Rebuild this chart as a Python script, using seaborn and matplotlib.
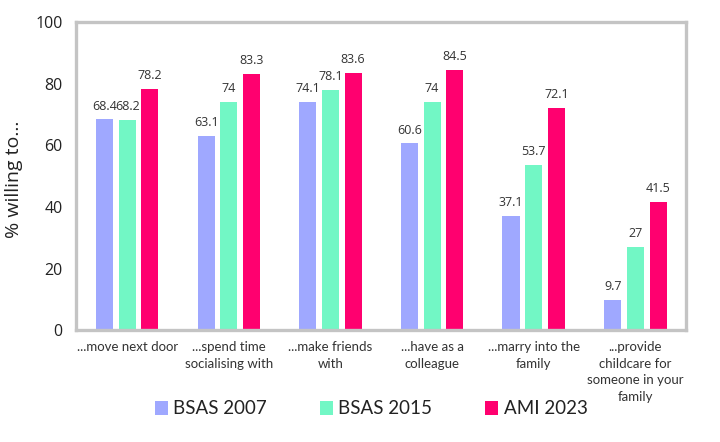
import matplotlib
matplotlib.use("Agg")
import matplotlib.pyplot as plt
import pandas as pd
import seaborn as sns

categories = [
    "...move next door",
    "...spend time\nsocialising with",
    "...make friends\nwith",
    "...have as a\ncolleague",
    "...marry into the\nfamily",
    "...provide\nchildcare for\nsomeone in your\nfamily",
]
series_names = ["BSAS 2007", "BSAS 2015", "AMI 2023"]
bsas_2007 = [68.4, 63.1, 74.1, 60.6, 37.1, 9.7]
bsas_2015 = [68.2, 74, 78.1, 74, 53.7, 27]
ami_2023 = [78.2, 83.3, 83.6, 84.5, 72.1, 41.5]
colors = ["#9fa8ff", "#72f7c5", "#ff006f"]

rows = []
for name, vals in zip(series_names, [bsas_2007, bsas_2015, ami_2023]):
    for cat, v in zip(categories, vals):
        rows.append({"category": cat, "series": name, "value": v})
df = pd.DataFrame(rows)

sns.set_theme(style="white")
plt.rcParams["font.family"] = ["Lato", "DejaVu Sans"]

fig = plt.figure(figsize=(7.2, 4.42), dpi=100)
ax = fig.add_axes([0.106, 0.253, 0.847, 0.697])

sns.barplot(data=df, x="category", y="value", hue="series", order=categories,
            hue_order=series_names, palette=colors, width=0.67, gap=0.25,
            saturation=1, edgecolor="none", ax=ax)

for cont in ax.containers:
    labels = [f"{v:g}" for v in cont.datavalues]
    ax.bar_label(cont, labels=labels, padding=5, fontsize=9,
                 color="#333333", family=["Open Sans", "DejaVu Sans"])

ax.set_ylim(0, 100)
ax.set_xlim(-0.5, len(categories) - 0.5)
ax.set_yticks(range(0, 101, 20))
ax.tick_params(axis="y", labelsize=11.5, colors="#222222", length=0, pad=10)
ax.tick_params(axis="x", labelsize=9.5, colors="#333333", length=0, pad=8)
for lab in ax.get_yticklabels():
    lab.set_family(["Open Sans", "DejaVu Sans"])
for lab in ax.get_xticklabels():
    lab.set_linespacing(1.45)
ax.set_xlabel("")
ax.set_ylabel("% willing to...", fontsize=14, color="#222222",
              family=["Open Sans", "DejaVu Sans"])
ax.yaxis.set_label_coords(-0.088, 0.49)

for sp in ax.spines.values():
    sp.set_color("#c4c4c4")
    sp.set_linewidth(2.4)
    sp.set_visible(True)

ax.get_legend().remove()
handles, labels = ax.get_legend_handles_labels()
leg = fig.legend(handles, labels, loc="center", bbox_to_anchor=(371 / 720, 1 - 409 / 442),
                 ncol=3, frameon=False, fontsize=13.5, handlelength=0.7, handleheight=0.7,
                 handletextpad=0.3, columnspacing=2.8)
for t in leg.get_texts():
    t.set_color("#222222")

fig.savefig("out.png", dpi=100)
